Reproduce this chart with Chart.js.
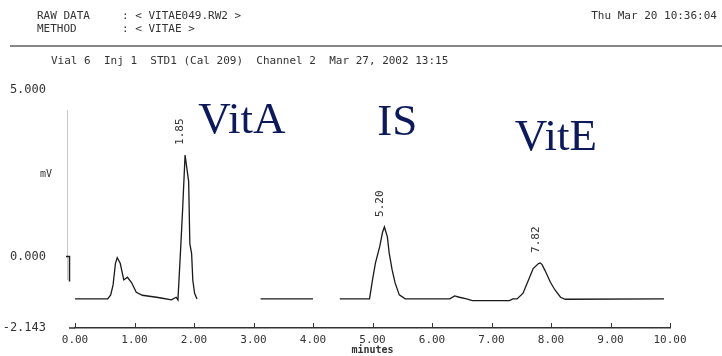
<!DOCTYPE html>
<html>
<head>
<meta charset="utf-8">
<script src="https://cdn.jsdelivr.net/npm/chart.js@4.4.1/dist/chart.umd.min.js"></script>
<style>
html, body { margin: 0; padding: 0; background: #fff; }
#wrap { position: relative; width: 722px; height: 356px; overflow: hidden; background: #fff; }
#chart { position: absolute; left: 0; top: 0; }
.hd { position: absolute; font-family: "DejaVu Sans Mono", monospace; font-size: 11px; color: #333; white-space: pre; line-height: 12px; }
.rule { position: absolute; left: 10px; width: 712px; height: 0; border-top: 2px solid #888; }
</style>
</head>
<body>
<div id="wrap">
  <canvas id="chart" width="722" height="356"></canvas>
  <div class="hd" style="left:37px;top:10px">RAW DATA</div>
  <div class="hd" style="left:122px;top:10px">: &lt; VITAE049.RW2 &gt;</div>
  <div class="hd" style="left:37px;top:23px">METHOD</div>
  <div class="hd" style="left:122px;top:23px">: &lt; VITAE &gt;</div>
  <div class="hd" style="right:5px;top:10px">Thu Mar 20 10:36:04</div>
  <div class="rule" style="top:45px"></div>
  <div class="hd" style="left:51px;top:55px">Vial 6  Inj 1  STD1 (Cal 209)  Channel 2  Mar 27, 2002 13:15</div>
</div>
<script>
// chromatogram trace (minutes / mV)
var times = [0.00, 0.55, 0.60, 0.64, 0.68, 0.71, 0.76, 0.82, 0.88, 0.95, 1.03, 1.13, 1.37, 1.47, 1.62, 1.70, 1.73,
  1.78, 1.81, 1.85, 1.88, 1.91, 1.93, 1.96, 1.98, 2.01, 2.05, 2.10,
  3.12, 4.00, 4.20,
  4.45, 4.95, 5.00, 5.05, 5.12, 5.17, 5.20, 5.25, 5.28, 5.33, 5.38, 5.45, 5.55,
  6.30, 6.38, 6.46, 6.58, 6.68, 7.30, 7.36,
  7.43, 7.53, 7.62, 7.70, 7.79, 7.82, 7.85, 7.90, 7.99, 8.07, 8.16, 8.24, 9.90];
var signal = [-1.27, -1.27, -1.15, -0.85, -0.20, -0.03, -0.20, -0.70, -0.62, -0.78, -1.07, -1.16, -1.22, -1.25, -1.30, -1.22, -1.30,
  0.39, 1.46, 3.05, 2.65, 2.26, 0.39, 0.09, -0.71, -1.10, -1.27, null,
  -1.27, -1.27, null,
  -1.27, -1.27, -0.70, -0.19, 0.29, 0.74, 0.89, 0.59, 0.11, -0.40, -0.79, -1.15, -1.27,
  -1.27, -1.18, -1.22, -1.27, -1.32, -1.32, -1.27,
  -1.27, -1.10, -0.71, -0.36, -0.21, -0.19, -0.24, -0.42, -0.77, -1.01, -1.22, -1.28, -1.27];

// peaks: retention time and compound name
var peakTimes = [1.85, 5.20, 7.82];
var peakNames = ['VitA', 'IS', 'VitE'];

// axis
var yTicks = [-2.143, 0, 5];
var xMinutes = [0, 1, 2, 3, 4, 5, 6, 7, 8, 9, 10];

// where the big compound names sit (minutes, mV of text baseline)
var nameAt = [[2.07, 3.71], [5.08, 3.65], [7.39, 3.20]];

var points = times.map(function(t, i) { return {x: t, y: signal[i]}; });

function apexOf(t) {
  var best = null;
  points.forEach(function(p) {
    if (p.y !== null && Math.abs(p.x - t) < 0.06 && (best === null || p.y > best)) best = p.y;
  });
  return best;
}

var decor = {
  id: 'decor',
  afterDatasetsDraw: function(chart) {
    var ctx = chart.ctx, a = chart.chartArea, x = chart.scales.x, y = chart.scales.y;
    ctx.save();
    // minute ticks pointing up from the axis
    ctx.strokeStyle = '#333';
    ctx.lineWidth = 1;
    xMinutes.forEach(function(m) {
      var px = Math.round(x.getPixelForValue(m)) + 0.5;
      ctx.beginPath(); ctx.moveTo(px, a.bottom); ctx.lineTo(px, a.bottom - 5); ctx.stroke();
    });
    // axis line runs a little left of the first minute
    ctx.lineWidth = 1.5;
    ctx.beginPath(); ctx.moveTo(a.left - 6, a.bottom); ctx.lineTo(a.left, a.bottom); ctx.stroke();
    // faint signal axis and the zero mark
    ctx.lineWidth = 1;
    ctx.strokeStyle = '#c8c8c8';
    ctx.beginPath(); ctx.moveTo(a.left - 7.5, y.getPixelForValue(4.4)); ctx.lineTo(a.left - 7.5, y.getPixelForValue(-0.7)); ctx.stroke();
    ctx.strokeStyle = '#222';
    ctx.lineWidth = 1.5;
    var z0 = y.getPixelForValue(0), z1 = y.getPixelForValue(-0.75);
    ctx.beginPath(); ctx.moveTo(a.left - 9, z0); ctx.lineTo(a.left - 5.5, z0); ctx.lineTo(a.left - 5.5, z1); ctx.stroke();
    // unit
    ctx.fillStyle = '#333';
    ctx.font = '10px "DejaVu Sans Mono"';
    ctx.textAlign = 'right';
    ctx.textBaseline = 'middle';
    ctx.fillText('mV', a.left - 23, y.getPixelForValue(2.47));
    // retention times, rotated above each apex
    ctx.font = '11px "DejaVu Sans Mono"';
    ctx.fillStyle = '#333';
    peakTimes.forEach(function(t) {
      var px = x.getPixelForValue(t), py = y.getPixelForValue(apexOf(t));
      ctx.save();
      ctx.translate(px + 1, py - 10);
      ctx.rotate(-Math.PI / 2);
      ctx.textAlign = 'left';
      ctx.textBaseline = 'bottom';
      ctx.fillText(t.toFixed(2), 0, 0);
      ctx.restore();
    });
    // compound names
    ctx.font = '45px "Liberation Serif"';
    ctx.fillStyle = '#0c1a5c';
    ctx.textAlign = 'left';
    ctx.textBaseline = 'alphabetic';
    peakNames.forEach(function(n, i) {
      ctx.fillText(n, x.getPixelForValue(nameAt[i][0]), y.getPixelForValue(nameAt[i][1]));
    });
    ctx.restore();
  }
};

var ctx = document.getElementById('chart').getContext('2d');
var chart = new Chart(ctx, {
  type: 'line',
  data: {
    datasets: [{
      data: points,
      borderColor: '#1a1a1a',
      borderWidth: 1.3,
      pointRadius: 0,
      tension: 0,
      spanGaps: false,
      fill: false
    }]
  },
  options: {
    responsive: false,
    animation: false,
    layout: {padding: {left: 3, right: 52, top: 90, bottom: 0}},
    plugins: {legend: {display: false}, tooltip: {enabled: false}},
    scales: {
      x: {
        type: 'linear',
        min: 0, max: 10,
        grid: {display: false, drawTicks: false},
        border: {display: true, color: '#333', width: 1.5},
        ticks: {
          stepSize: 1,
          padding: 6,
          color: '#333',
          font: {family: 'DejaVu Sans Mono', size: 11},
          maxRotation: 0,
          callback: function(v) { return v.toFixed(2); }
        },
        title: {display: true, text: 'minutes', color: '#333', padding: 0,
          font: {family: 'DejaVu Sans Mono', size: 10, weight: 'bold'}},
        afterFit: function(s) { s.height = 28; s.paddingLeft = 0; s.paddingRight = 0; }
      },
      y: {
        min: -2.143, max: 5,
        grid: {display: false, drawTicks: false},
        border: {display: false},
        afterBuildTicks: function(s) { s.ticks = yTicks.map(function(v) { return {value: v}; }); },
        ticks: {
          color: '#333',
          padding: 29,
          font: {family: 'DejaVu Sans Mono', size: 12},
          callback: function(v) { return v.toFixed(3); }
        },
        afterFit: function(s) { s.width = 72; s.paddingTop = 0; s.paddingBottom = 0; }
      }
    }
  },
  plugins: [decor]
});
</script>
</body>
</html>
